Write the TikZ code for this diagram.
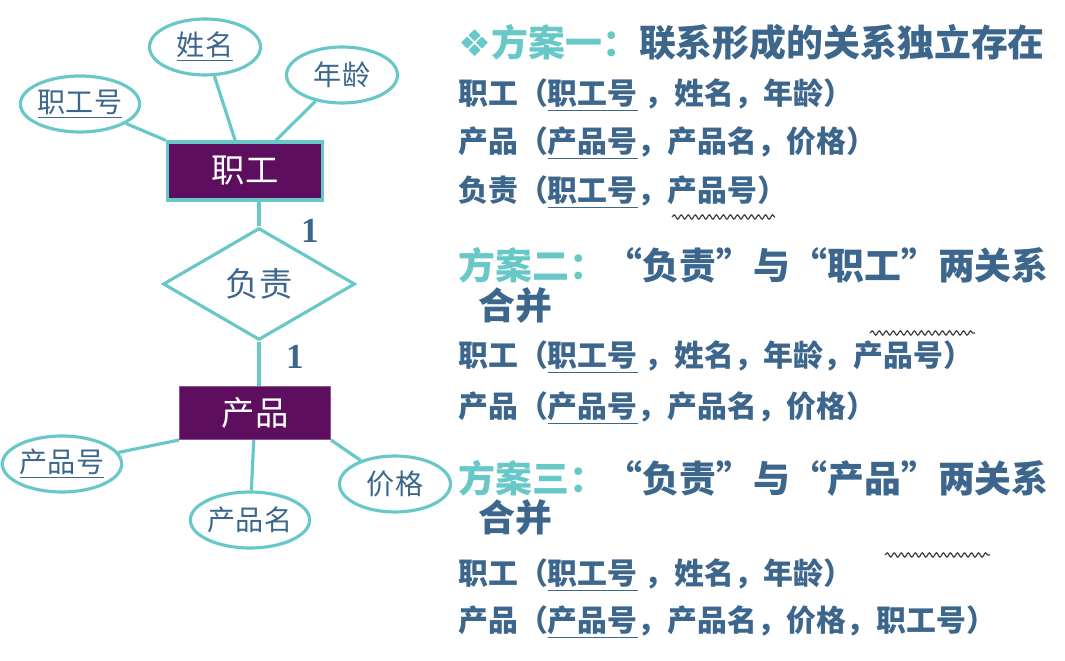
\documentclass[tikz,border=0pt]{standalone}
\usepackage{fontspec}
\usepackage{xcolor}
\usepackage{tikz}
\usetikzlibrary{shapes.geometric, decorations.pathmorphing}
\newfontfamily\cjk{Noto Sans CJK SC}
\newfontfamily\symfont{DejaVu Sans}
\newfontfamily\numfont{Liberation Serif}
\definecolor{erteal}{RGB}{104,200,200}
\definecolor{erpurple}{RGB}{94,14,94}
\definecolor{txtblue}{RGB}{60,102,140}
\tikzset{
  attr/.style={ellipse, draw=erteal, line width=1.8pt, fill=white,
               minimum width=2.22cm, minimum height=1.12cm, inner sep=0pt,
               font=\cjk\fontsize{16}{18}\selectfont, text=txtblue},
  entity/.style={rectangle, draw=erteal, line width=1.8pt, fill=erpurple,
                 minimum width=3.1cm, minimum height=1.16cm,
                 font=\cjk\fontsize{19}{22}\selectfont, text=white},
  relation/.style={diamond, draw=erteal, line width=1.8pt, fill=white,
                   minimum width=3.84cm, minimum height=2.24cm, inner sep=0pt,
                   font=\cjk\fontsize{19}{22}\selectfont, text=txtblue},
  link/.style={draw=erteal, line width=1.8pt},
  card/.style={font=\numfont\bfseries\fontsize{20}{22}\selectfont, text=txtblue},
  plan/.style={anchor=west, inner sep=0pt,
               font=\cjk\bfseries\fontsize{21}{24}\selectfont, text=txtblue},
  row/.style={anchor=west, inner sep=0pt,
              font=\cjk\bfseries\fontsize{17}{20}\selectfont, text=txtblue},
  wavy/.style={draw=black!75, line width=0.7pt, decorate,
               decoration={snake, amplitude=1.2pt, segment length=4pt}},
}

\begin{document}
\begin{tikzpicture}[x=0.02cm, y=-0.02cm]
  \useasboundingbox (0,0) rectangle (1065,661);

  % E-R diagram
  \node[entity] (emp) at (245,171) {职工};
  \node[attr] (ename) at (205,47) {\underline{姓名}};
  \node[attr] (eage) at (342,75) {年龄};
  \node[attr] (eno) at (80,104) {\underline{职工号}};
  \node[relation] (resp) at (259,284) {负责};
  \node[entity, draw=erpurple!70!white, line width=0.6pt,
        minimum width=3.02cm, minimum height=1.06cm] (prod) at (255,413) {产品};
  \node[attr] (pno) at (62,464) {\underline{产品号}};
  \node[attr] (pname) at (250,520) {产品名};
  \node[attr] (price) at (395,484) {价格};
  \node[card] (c1) at (310,231) {1};
  \node[card] (c2) at (295,357) {1};

  \draw[link] (eno) -- (emp.north west);
  \draw[link] (ename) -- (emp);
  \draw[link] (eage) -- (emp);
  \draw[link] (resp.north) -- (resp.north |- emp.south);
  \draw[link] (resp.south) -- (resp.south |- prod.north);
  \draw[link] (pno) -- (prod.south west);
  \draw[link] (pname) -- (prod);
  \draw[link] (price) -- (prod.south east);

  % schemes
  \node[plan] (plan1) at (458,42)
    {{\symfont\color{erteal}❖}{\color{erteal}方案一：}联系形成的关系独立存在};
  \node[row] (r1) at (458,95) {职工（\underline{职工号} ，姓名，年龄）};
  \node[row] (r2) at (458,143) {产品（\underline{产品号}，产品名，价格）};
  \node[row] (r3) at (458,192) {负责（\underline{职工号}，产品号）};
  \draw[wavy] (672,217) -- (775,217);

  \node[plan] (plan2) at (458,265)
    {{\color{erteal}方案二：}“负责”与“职工”两关系};
  \node[plan] (plan2b) at (478,306) {合并};
  \draw[wavy] (870,333) -- (975,333);
  \node[row] (r4) at (458,357) {职工（\underline{职工号} ，姓名，年龄，产品号）};
  \node[row] (r5) at (458,408) {产品（\underline{产品号}，产品名，价格）};

  \node[plan] (plan3) at (458,478)
    {{\color{erteal}方案三：}“负责”与“产品”两关系};
  \node[plan] (plan3b) at (478,518) {合并};
  \draw[wavy] (885,555) -- (990,555);
  \node[row] (r6) at (458,575) {职工（\underline{职工号} ，姓名，年龄）};
  \node[row] (r7) at (458,622) {产品（\underline{产品号}，产品名，价格，职工号）};
\end{tikzpicture}
\end{document}
